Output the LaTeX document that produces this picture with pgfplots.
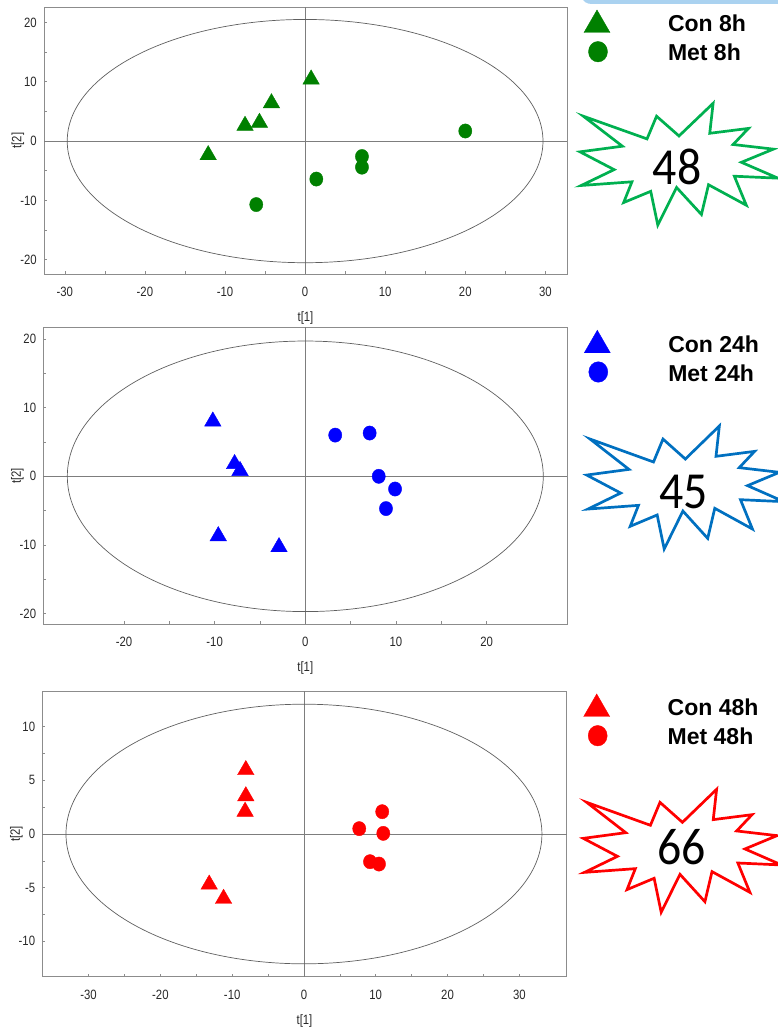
\documentclass[border=0pt]{standalone}
\usepackage{pgfplots}
\pgfplotsset{compat=1.18}
\usepackage{fontspec}
\setmainfont{Liberation Sans}
\newfontfamily\narrowfont[FakeStretch=0.84]{Liberation Sans}
\newfontfamily\burstfont[FakeStretch=0.92]{Carlito}
\definecolor{mgreen}{RGB}{0,128,0}
\definecolor{mblue}{RGB}{0,0,255}
\definecolor{mred}{RGB}{255,0,0}
\definecolor{bgreen}{RGB}{0,176,80}
\definecolor{bblue}{RGB}{0,112,192}
\definecolor{bred}{RGB}{255,0,0}
\definecolor{axgray}{RGB}{140,140,140}
\definecolor{zgray}{RGB}{125,125,125}
\definecolor{elgray}{RGB}{95,95,95}
\definecolor{txt}{RGB}{40,40,40}
\definecolor{topblue}{RGB}{170,210,240}
\newcommand{\tickfont}{\narrowfont\fontsize{13.5}{14}\selectfont}

\pgfplotsset{
 pca/.style={
  scale only axis, clip=false, anchor=south west,
  axis line style={draw=axgray, line width=0.8pt},
  tick style={draw=axgray, line width=0.6pt},
  tick align=inside, major tick length=3pt, minor tick length=3pt,
  xtick pos=bottom, ytick pos=left,
  minor x tick num=1, minor y tick num=1,
  /pgf/number format/assume math mode=true,
  ticklabel style={font=\tickfont, text=txt, inner sep=0pt},
  xticklabel style={anchor=center, yshift=-17.7pt},
  yticklabel style={anchor=east, xshift=-7pt},
  xlabel style={font=\tickfont, text=txt, at={(axis description cs:0.5,0)}, anchor=center, yshift=-44pt},
  ylabel style={font=\tickfont, text=txt, at={([xshift=-26pt]axis description cs:0,0.5)}, anchor=center},
  xlabel={{t[1]}}, ylabel={{t[2]}},
  legend cell align=left,
  legend style={draw=none, fill=none, inner sep=0pt, outer sep=0pt, row sep=0pt,
    at={(axis description cs:1,1)}, anchor=north west, xshift=15pt, yshift=-3pt,
    nodes={inner sep=0pt, anchor=base west, font=\bfseries\fontsize{23}{23}\selectfont, text=black},
    /tikz/every odd column/.append style={column sep=0pt}},
 },
 con/.style={only marks, mark=triangle*, mark size=9.5pt, mark options={draw=none, fill=#1}, color=#1,
   legend image code/.code={\path[draw=none,fill=none] (-15pt,-8pt) rectangle (71pt,21pt);\draw[##1,mark size=15pt] plot coordinates {(0pt,7pt)};}},
 met/.style={only marks, mark=*, mark size=6.6pt, mark options={draw=none, fill=#1, yscale=1.08}, color=#1,
   legend image code/.code={\path[draw=none,fill=none] (-15pt,-8pt) rectangle (71pt,21pt);\draw[##1,mark size=9.5pt] plot coordinates {(1pt,9.3pt)};}},
}

\newcommand{\burst}[7]{%
 \begin{scope}[shift={(#1,{1029-#2})}, xscale={#3/216}, yscale={-#4/216}]
  \draw[#5, line width=2.7pt, line join=miter] (108,58) -- (145.22,0) -- (141.55,53.25) -- (183.80,44.57) -- (167.02,73.15) -- (210.97,81.37) -- (176.07,104.75) -- (216,132.90) -- (168.37,129.42) -- (181.45,180.95) -- (140.20,144.57) -- (132.47,197.37) -- (105.32,149.35) -- (84.85,216) -- (77.15,156.27) -- (47.62,176.17) -- (56.67,139.37) -- (1.35,145.87) -- (37.22,117.75) -- (0,86.15) -- (46.27,76.17) -- (3.70,22.95) -- (73.12,63.20) -- (83.52,22.95) -- cycle;
 \end{scope}
 \node[inner sep=0pt, anchor=center] at #7 {\burstfont\fontsize{52}{52}\selectfont #6};
}

\begin{document}
\begin{tikzpicture}[x=1pt,y=1pt]
% ---------- Panel 1: 8h ----------
\begin{axis}[pca, at={(44pt,755pt)}, width=523pt, height=267pt,
  xmin=-32.6, xmax=32.7, ymin=-22.4, ymax=22.6,
  xtick={-30,-20,-10,0,10,20,30}, ytick={-20,-10,0,10,20}]
 \draw[zgray, line width=0.7pt] (axis cs:0,-22.4) -- (axis cs:0,22.6);
 \draw[zgray, line width=0.7pt] (axis cs:-32.6,0) -- (axis cs:32.7,0);
 \draw[elgray, line width=0.7pt] (axis cs:0,0) ellipse [x radius=29.7, y radius=20.5];
 \addplot[con=mgreen] coordinates {(0.75,10.4) (-4.2,6.4) (-5.7,3.1) (-7.5,2.6) (-12.1,-2.35)};
 \addlegendentry{Con 8h}
 \addplot[met=mgreen] coordinates {(-6.1,-10.7) (1.4,-6.4) (7.1,-2.6) (7.1,-4.4) (20.0,1.7)};
 \addlegendentry{Met 8h}
\end{axis}

% ---------- Panel 2: 24h ----------
\begin{axis}[pca, at={(43.3pt,404.7pt)}, width=524pt, height=297pt,
  xmin=-28.9, xmax=28.9, ymin=-21.55, ymax=21.7,
  xtick={-20,-10,0,10,20}, ytick={-20,-10,0,10,20}]
 \draw[zgray, line width=0.7pt] (axis cs:0,-21.55) -- (axis cs:0,21.7);
 \draw[zgray, line width=0.7pt] (axis cs:-28.9,0) -- (axis cs:28.9,0);
 \draw[elgray, line width=0.7pt] (axis cs:0,0) ellipse [x radius=26.25, y radius=19.7];
 \addplot[con=mblue] coordinates {(-10.2,8.0) (-7.8,1.8) (-7.2,0.8) (-9.6,-8.7) (-2.9,-10.3)};
 \addlegendentry{Con 24h}
 \addplot[met=mblue] coordinates {(3.3,6.0) (7.1,6.3) (8.1,0.0) (9.9,-1.85) (8.9,-4.7)};
 \addlegendentry{Met 24h}
\end{axis}

% ---------- Panel 3: 48h ----------
\begin{axis}[pca, at={(42.3pt,52.3pt)}, width=524.4pt, height=285.7pt,
  xmin=-36.45, xmax=36.6, ymin=-13.3, ymax=13.33,
  xtick={-30,-20,-10,0,10,20,30}, ytick={-10,-5,0,5,10}]
 \draw[zgray, line width=0.7pt] (axis cs:0,-13.3) -- (axis cs:0,13.33);
 \draw[zgray, line width=0.7pt] (axis cs:-36.45,0) -- (axis cs:36.6,0);
 \draw[elgray, line width=0.7pt] (axis cs:0,0) ellipse [x radius=33.15, y radius=12.1];
 \addplot[con=mred] coordinates {(-8.1,5.97) (-8.1,3.53) (-8.2,2.09) (-13.2,-4.7) (-11.2,-6.03)};
 \addlegendentry{Con 48h}
 \addplot[met=mred] coordinates {(10.9,2.08) (7.7,0.5) (11.05,0.06) (9.2,-2.58) (10.45,-2.8)};
 \addlegendentry{Met 48h}
\end{axis}

\begin{scope}
\clip (0,0) rectangle (778,1029);
\fill[topblue] (583,1029) .. controls (587,1025) .. (600,1025) -- (778,1025) -- (778,1029) -- cycle;
\burst{580}{103.3}{198}{121.7}{bgreen}{48}{(677,{1029-166.7})}
\burst{586.7}{426}{197.3}{123}{bblue}{45}{(683.3,{1029-491.7})}
\burst{583.3}{789.3}{198.3}{123}{bred}{66}{(681.3,{1029-847})}
\end{scope}
\pgfresetboundingbox
\useasboundingbox (0,0) rectangle (778,1029);
\end{tikzpicture}
\end{document}
